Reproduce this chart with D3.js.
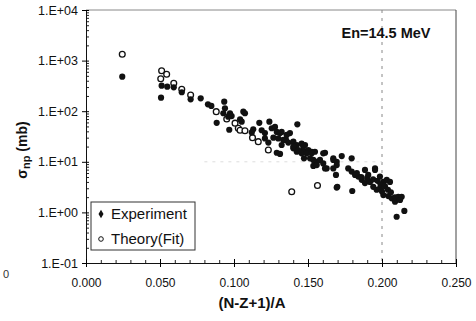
<!DOCTYPE html>
<html><head><meta charset="utf-8">
<script src="https://cdn.jsdelivr.net/npm/d3@7/dist/d3.min.js"></script>
<style>body{margin:0;background:#fff}svg{display:block}text{font-family:Arial,"Liberation Sans",sans-serif}</style>
</head><body><svg id="c" width="476" height="321"></svg>
<script>
const xTicks=[0,0.05,0.1,0.15,0.2,0.25];
const yTicks=[0.1,1,10,100,1000,10000];
const expX=[0.0245,0.0511,0.0549,0.0507,0.0593,0.0647,0.0707,0.0775,0.0824,0.0847,0.0934,0.0939,0.0928,0.0883,0.0973,0.0984,0.0961,0.0968,
0.1063,0.1074,0.1041,0.1052,0.1130,0.1120,0.1171,0.1239,0.1187,0.1209,0.1209,0.1232,0.1255,0.1277,0.1289,0.1311,0.1266,0.1299,0.1289,0.1311,0.1322,0.1378,0.1428,
0.1351,0.1367,0.1401,0.1424,0.1401,0.1424,0.1457,0.1480,0.1468,0.1502,0.1525,0.1547,0.1473,0.1514,0.1559,0.1536,0.1615,0.1603,0.1626,0.1671,0.1694,0.1689,0.1694,
0.1322,0.1356,0.1333,0.1401,0.1434,0.1468,0.1457,0.1491,0.1525,0.1536,0.1559,0.1581,0.1603,0.1615,0.1671,0.1694,0.1671,0.1728,0.1795,
0.1772,0.1795,0.1818,0.1840,0.1885,0.1907,0.1863,0.1885,0.1919,0.1953,0.1986,0.2009,0.2032,0.2054,0.1941,0.1964,0.1986,
0.2009,0.2043,0.2066,0.2088,0.2110,0.2133,0.2088,0.2122,0.1698,0.1799,0.2151,0.2099,
0.183,0.186,0.190,0.194,0.197,0.199,0.202,0.204,0.206,0.200,0.1953];
const expY=[481,319,305,185,297,237,172,180,137,127,154,114,91,59,91,80,78,43,
98,91,69,62,44,38,59,62,42,37,29,24,46,49,39,37,30,29,15.1,14.3,21.5,37,55,
27,24,25,21.5,18.5,15.8,23,21.5,16.6,17.1,15.8,15.8,11.7,11.7,10.0,8.3,15.1,9.3,7.4,11.7,10.0,5.5,3.1,
39,34,27,20,17.1,20,14.7,14.7,14.7,10.9,8.6,10.9,14.7,7.4,10.9,8.6,7.4,13.0,11.7,
7.4,6.4,5.5,5.1,6.9,5.5,4.4,3.8,4.0,6.9,5.1,4.0,4.4,4.0,3.2,2.8,3.0,
2.2,2.1,1.9,1.99,2.04,2.04,1.63,1.76,3.2,2.65,1.07,0.82,
6.0,5.0,4.8,4.5,4.2,3.6,3.3,2.8,2.5,2.6,7.4];
const thX=[0.0245,0.0511,0.0545,0.0505,0.0593,0.0647,0.0707,0.0880,0.0951,0.1007,0.1029,0.1041,0.1074,0.1125,0.1164,0.1232,0.1390,0.1564];
const thY=[1334,631,536,438,356,271,209,98,70,58,46,42,41,30,25,17.1,2.56,3.4];

const svg=d3.select("#c");
const x=d3.scaleLinear().domain([0,0.25]).range([86,456]);
const y=d3.scaleLog().domain([0.1,10000]).range([263,10]);

// frame & guides
svg.append("line").attr("x1",86).attr("x2",456).attr("y1",10).attr("y2",10).attr("stroke","#888").attr("stroke-width",1);
svg.append("line").attr("x1",456).attr("x2",456).attr("y1",10).attr("y2",263).attr("stroke","#444").attr("stroke-width",1);
svg.append("line").attr("x1",x(0.2)).attr("x2",x(0.2)).attr("y1",10).attr("y2",263).attr("stroke","#888").attr("stroke-dasharray","3,5");
svg.append("line").attr("x1",x(0.08)).attr("x2",x(0.2)).attr("y1",y(10)).attr("y2",y(10)).attr("stroke","#ddd").attr("stroke-dasharray","3,5");

const fmt=v=>{const e=Math.round(Math.log10(v));return "1.E"+(e<0?"-":"+")+String(Math.abs(e)).padStart(2,"0");};

// minor ticks
const yMinor=[];yTicks.slice(0,-1).forEach(t=>{for(let k=2;k<10;k++)yMinor.push(t*k);});
svg.append("g").attr("transform","translate(86,0)").call(d3.axisRight(y).tickValues(yMinor).tickFormat("").tickSize(3).tickSizeOuter(0))
  .call(g=>g.select(".domain").remove()).selectAll("line").attr("stroke","#222");
const xMinor=d3.range(1,25).map(i=>i/100).filter(v=>Math.abs(v*20-Math.round(v*20))>1e-6);
svg.append("g").attr("transform","translate(0,263)").call(d3.axisTop(x).tickValues(xMinor).tickFormat("").tickSize(3).tickSizeOuter(0))
  .call(g=>g.select(".domain").remove()).selectAll("line").attr("stroke","#222");

// major axes
const ya=svg.append("g").attr("transform","translate(86,0)").call(d3.axisLeft(y).tickValues(yTicks).tickFormat(fmt).tickSize(4).tickSizeOuter(0));
ya.selectAll(".tick line").attr("x1",3).attr("x2",-4);
ya.selectAll("text").attr("font-size",12.5).attr("fill","#111").attr("x",-8).attr("font-family","Arial");
ya.select(".domain").attr("stroke","#111");
const xa=svg.append("g").attr("transform","translate(0,263)").call(d3.axisBottom(x).tickValues(xTicks).tickFormat(d3.format(".3f")).tickSize(4).tickSizeOuter(0));
xa.selectAll(".tick line").attr("y1",-4).attr("y2",4);
xa.selectAll("text").attr("font-size",12).attr("fill","#111").attr("y",15).attr("font-family","Arial");
xa.select(".domain").attr("stroke","#111");

// data
svg.append("g").selectAll("circle").data(thX.map((v,i)=>[v,thY[i]])).join("circle")
  .attr("cx",d=>x(d[0])).attr("cy",d=>y(d[1])).attr("r",2.9).attr("fill","#fff").attr("stroke","#111").attr("stroke-width",1.3);
svg.append("g").selectAll("circle").data(expX.map((v,i)=>[v,expY[i]])).join("circle")
  .attr("cx",d=>x(d[0])).attr("cy",d=>y(d[1])).attr("r",3.1).attr("fill","#111");

// texts
svg.append("text").attr("x",386).attr("y",38).attr("text-anchor","middle").attr("font-size",14.5).attr("font-weight","bold").attr("fill","#111").text("En=14.5 MeV");
svg.append("text").attr("x",252).attr("y",308).attr("text-anchor","middle").attr("font-size",15).attr("font-weight","bold").attr("fill","#111").text("(N-Z+1)/A");
const yl=svg.append("text").attr("transform","translate(27,150) rotate(-90)").attr("text-anchor","middle").attr("font-size",14).attr("font-weight","bold").attr("fill","#111");
yl.append("tspan").text("σ");
yl.append("tspan").attr("font-size",11).attr("dy",3).text("np");
yl.append("tspan").attr("dy",-3).text(" (mb)");
svg.append("text").attr("x",3).attr("y",278).attr("font-size",11).attr("fill","#333").text("0");

// legend
const lg=svg.append("g");
lg.append("rect").attr("x",91).attr("y",202).attr("width",104).attr("height",48).attr("fill","#fff").attr("stroke","#333");
lg.append("path").attr("d",d3.symbol(d3.symbolDiamond,22)()).attr("transform","translate(101,214)").attr("fill","#111");
lg.append("circle").attr("cx",101).attr("cy",239).attr("r",2.3).attr("fill","#fff").attr("stroke","#111");
lg.append("text").attr("x",111).attr("y",219).attr("font-size",15).attr("fill","#111").text("Experiment");
lg.append("text").attr("x",111).attr("y",244).attr("font-size",15).attr("fill","#111").text("Theory(Fit)");
</script></body></html>
